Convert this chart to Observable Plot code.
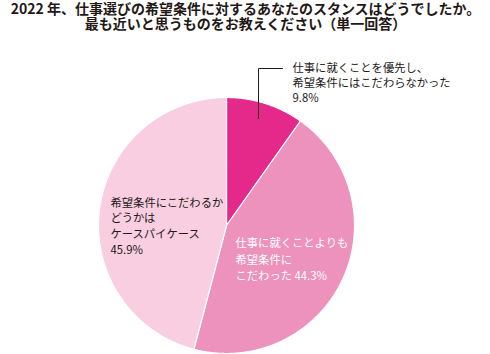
<!DOCTYPE html>
<html><head><meta charset="utf-8">
<script src="https://cdn.jsdelivr.net/npm/d3@7"></script>
<script src="https://cdn.jsdelivr.net/npm/@observablehq/plot@0.6"></script>
<style>body{margin:0;background:#fff;}svg{display:block;font-family:"Noto Sans CJK JP",sans-serif;}</style>
</head><body><div id="chart"></div>
<script>
// Data
const categories = [
  "仕事に就くことを優先し、希望条件にはこだわらなかった",
  "仕事に就くことよりも希望条件にこだわった",
  "希望条件にこだわるかどうかはケースバイケース"
];
const values = [9.8, 44.3, 45.9];
const colors = ["#e4298a", "#ec92bc", "#f8cee0"];
const labelTexts = [
  "仕事に就くことを優先し、\n希望条件にはこだわらなかった\n9.8%",
  "仕事に就くことよりも\n希望条件に\nこだわった 44.3%",
  "希望条件にこだわるか\nどうかは\nケースパイケース\n45.9%"
];
const titleText = "2022 年、仕事選びの希望条件に対するあなたのスタンスはどうでしたか。\n最も近いと思うものをお教えください（単一回答）";

// Layout
const W = 490, H = 354;
const cx = 226, cy = 225, R = 128;
const labelPos = [
  {x: 292, y: 60, fill: "#231815", lh: 1.37},
  {x: 235, y: 234.5, fill: "#ffffff", lh: 1.48},
  {x: 110, y: 195, fill: "#231815", lh: 1.39}
];

const arcs = d3.pie().sort(null).value(d => d)(values);
const slicePolys = arcs.map((a, i) => {
  const pts = [{x: cx, y: cy}];
  const n = Math.max(2, Math.ceil((a.endAngle - a.startAngle) / 0.005));
  for (let k = 0; k <= n; k++) {
    const t = a.startAngle + (a.endAngle - a.startAngle) * k / n;
    pts.push({x: cx + R * Math.sin(t), y: cy - R * Math.cos(t)});
  }
  pts.push({x: cx, y: cy});
  return pts;
});

const leader = [{x: 282, y: 68}, {x: 258, y: 68}, {x: 258, y: 118}];

const plot = Plot.plot({
  width: W, height: H,
  margin: 0,
  x: {domain: [0, W], range: [0, W], axis: null},
  y: {domain: [0, H], range: [0, H], axis: null},
  marks: [
    ...slicePolys.map((p, i) => Plot.line(p, {x: "x", y: "y", fill: colors[i], stroke: "#ffffff", strokeWidth: 1.2, strokeLinejoin: "round"})),
    Plot.line(leader, {x: "x", y: "y", stroke: "#231815", strokeWidth: 1}),
    ...labelTexts.map((t, i) => Plot.text([t], {x: labelPos[i].x, y: labelPos[i].y, text: d => d, fill: labelPos[i].fill, textAnchor: "start", lineAnchor: "top", fontSize: 11.3, lineHeight: labelPos[i].lh})),
    Plot.text([titleText], {x: W / 2, y: 2.8, text: d => d, textAnchor: "middle", lineAnchor: "top", fontSize: 14, fontWeight: "bold", lineHeight: 1.08, fill: "#231815"})
  ]
});
document.getElementById("chart").appendChild(plot);
</script>
</body></html>
